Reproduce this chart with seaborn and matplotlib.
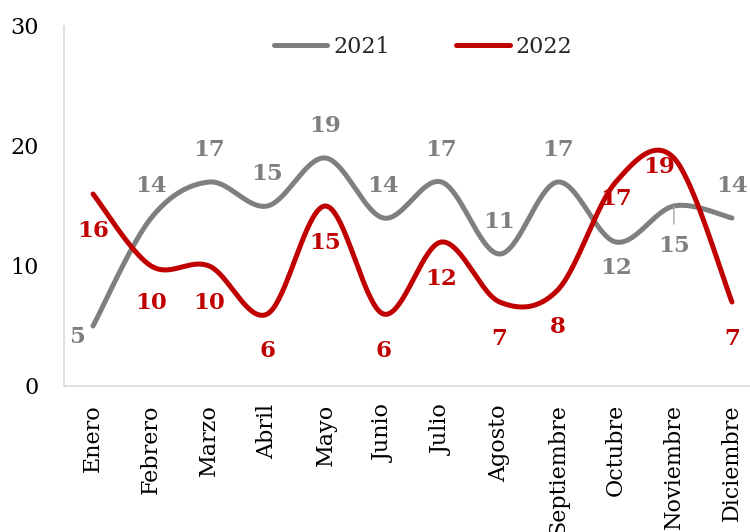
import numpy as np
import pandas as pd
import matplotlib
matplotlib.use("Agg")
import matplotlib.pyplot as plt
import seaborn as sns

meses = ["Enero", "Febrero", "Marzo", "Abril", "Mayo", "Junio", "Julio",
         "Agosto", "Septiembre", "Octubre", "Noviembre", "Diciembre"]
v2021 = [5, 14, 17, 15, 19, 14, 17, 11, 17, 12, 15, 14]
v2022 = [16, 10, 10, 6, 15, 6, 12, 7, 8, 17, 19, 7]
y_ticks = [0, 10, 20, 30]

GRIS = "#7F7F7F"
ROJO = "#C00000"
EJE = "#D9D9D9"

sns.set_theme(style="white")
plt.rcParams["font.family"] = ["DejaVu Serif"]


def suavizar(x, y, n=40):
    """Smooth line through the points using cubic Bezier segments
    with Catmull-Rom control points."""
    pts = np.column_stack([x, y]).astype(float)
    P = np.vstack([pts[0], pts, pts[-1]])
    t = np.linspace(0, 1, n)[:, None]
    partes = []
    for i in range(1, len(P) - 2):
        p0, p1, p2, p3 = P[i - 1], P[i], P[i + 1], P[i + 2]
        c1 = p1 + (p2 - p0) / 6
        c2 = p2 - (p3 - p1) / 6
        seg = ((1 - t) ** 3) * p1 + 3 * ((1 - t) ** 2) * t * c1 \
            + 3 * (1 - t) * t ** 2 * c2 + t ** 3 * p2
        partes.append(seg if i == 1 else seg[1:])
    arr = np.vstack(partes)
    return arr[:, 0], arr[:, 1]


x = np.arange(len(meses))

fig = plt.figure(figsize=(7.5, 5.32), dpi=100)
ax = fig.add_axes([64 / 750, 1 - 386 / 532, 697 / 750, 360 / 532])

for anio, vals, color in [("2021", v2021, GRIS), ("2022", v2022, ROJO)]:
    xs, ys = suavizar(x, vals)
    df = pd.DataFrame({"x": xs, "y": ys})
    sns.lineplot(data=df, x="x", y="y", ax=ax, color=color, lw=3.6,
                 sort=False, estimator=None, label=anio,
                 solid_capstyle="round")

ax.set_xlim(-0.5, len(meses) - 0.5)
ax.set_ylim(0, 30)
ax.set_yticks(y_ticks)
ax.set_yticklabels([str(v) for v in y_ticks], fontsize=16, color="black")
ax.set_xticks(x)
ax.set_xticklabels(meses, rotation=90, fontsize=16, color="black",
                   va="top", ha="center")
ax.tick_params(axis="y", length=0, pad=18)
ax.tick_params(axis="x", length=0, pad=13)
ax.set_xlabel("")
ax.set_ylabel("")

for lado in ["top", "right"]:
    ax.spines[lado].set_visible(False)
for lado in ["left", "bottom"]:
    ax.spines[lado].set_color(EJE)
    ax.spines[lado].set_linewidth(1.2)

PX = 0.72  # pixels to points at 100 dpi

# label offsets (pixels, screen y downward)
off_2021 = [(-16, 11)] + [(0, -32)] * 8 + [(0, 26), (0, 40), (0, -32)]
off_2022 = [(0, 37)] * 9 + [(0, 17), (-15, 9), (0, 37)]

for vals, offs, color in [(v2021, off_2021, GRIS), (v2022, off_2022, ROJO)]:
    for i, (v, (dx, dy)) in enumerate(zip(vals, offs)):
        ax.annotate(str(v), xy=(i, v), xytext=(dx * PX, -dy * PX),
                    textcoords="offset points", ha="center", va="center",
                    fontsize=16.5, fontweight="bold", color=color,
                    family=["DejaVu Serif Condensed", "DejaVu Serif"])

# leader line for the Noviembre 2021 label
ax.annotate("", xy=(10, v2021[10]), xytext=(0, -13),
            textcoords="offset points",
            arrowprops=dict(arrowstyle="-", color="#A6A6A6", lw=1,
                            shrinkA=0, shrinkB=0))

leg = ax.legend(loc="center", bbox_to_anchor=(0.515, 0.942), ncol=2,
                frameon=False, fontsize=16, handlelength=2.4,
                handletextpad=0.25, columnspacing=3.0)
for h in leg.get_lines():
    h.set_linewidth(3.6)
    h.set_solid_capstyle("round")

fig.savefig("out.png", dpi=100)
